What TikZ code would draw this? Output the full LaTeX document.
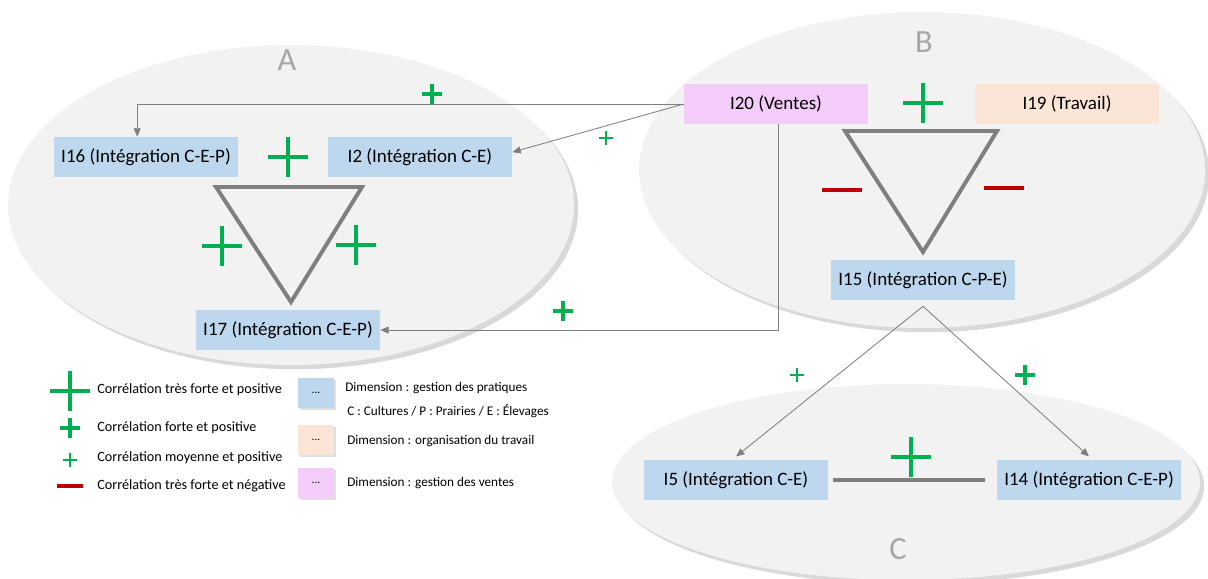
\documentclass[tikz,border=0pt]{standalone}
\usepackage{fontspec}
\setmainfont{Carlito}
\usetikzlibrary{arrows.meta,shadows}
\definecolor{blockblue}{HTML}{BDD7EE}
\definecolor{blockpeach}{HTML}{FBE5D6}
\definecolor{blockpink}{HTML}{F4CCFA}
\definecolor{zonegray}{HTML}{F2F2F2}
\definecolor{linegray}{HTML}{7F7F7F}
\definecolor{lettergray}{HTML}{A6A6A6}
\definecolor{corrgreen}{HTML}{00B050}
\definecolor{corrred}{HTML}{C00000}
\tikzset{
  zone/.style={fill=zonegray, drop shadow={shadow xshift=3pt, shadow yshift=-3pt, opacity=0.3}},
  zonename/.style={text=lettergray, font=\fontsize{23}{25}\selectfont},
  indic/.style={fill=#1, minimum width=4.6cm, minimum height=1cm, inner sep=2pt, font=\fontsize{13.5}{15}\selectfont},
  link/.style={draw=linegray, line width=0.6pt, -{Triangle[length=6pt,width=5pt]}},
  triline/.style={draw=linegray, line width=2.8pt, line join=miter},
  legtext/.style={anchor=west, inner sep=0pt, font=\fontsize{10.1}{12}\selectfont},
  dimtext/.style={anchor=west, inner sep=0pt, font=\fontsize{9.4}{11}\selectfont},
  legbox/.style={fill=#1, minimum width=0.9cm, minimum height=0.75cm, inner sep=0pt, font=\fontsize{8}{9}\selectfont,
    drop shadow={shadow xshift=1.5pt, shadow yshift=-1.5pt, opacity=0.25}}
}
% plus mark: x, y, half arm, thickness
\newcommand{\corrplus}[4]{\draw[corrgreen, line width=#4] (#1-#3,#2) -- (#1+#3,#2) (#1,#2-#3) -- (#1,#2+#3);}
% minus mark: x, y, half length
\newcommand{\corrminus}[3]{\draw[corrred, line width=2.8pt] (#1-#3,#2) -- (#1+#3,#2);}

\begin{document}
\begin{tikzpicture}[x=0.025cm, y=-0.025cm]
\useasboundingbox (0,0) rectangle (1208,578);
% zones
\fill[zone] (291,205) ellipse [x radius=283, y radius=160];
\fill[zone] (922,170) ellipse [x radius=283, y radius=158];
\fill[zone] (906,482) ellipse [x radius=294, y radius=98];
\node[zonename] (nameA) at (287,60) {A};
\node[zonename] (nameB) at (924,42) {B};
\node[zonename] (nameC) at (898,549) {C};

% indicators
\node[indic=blockblue] (I16) at (146,157) {I16 (Intégration C-E-P)};
\node[indic=blockblue] (I2) at (420,157) {I2 (Intégration C-E)};
\node[indic=blockblue] (I17) at (288,330) {I17 (Intégration C-E-P)};
\node[indic=blockpink] (I20) at (776,104) {I20 (Ventes)};
\node[indic=blockpeach] (I19) at (1067,104) {I19 (Travail)};
\node[indic=blockblue] (I15) at (923,280) {I15 (Intégration C-P-E)};
\node[indic=blockblue] (I5) at (736,480) {I5 (Intégration C-E)};
\node[indic=blockblue] (I14) at (1089,480) {I14 (Intégration C-E-P)};

% triangles
\draw[triline] (216,187) -- (362,187) -- (291,302) -- cycle;
\draw[triline] (845,131) -- (997,131) -- (923,252) -- cycle;
\draw[triline, shorten <=3pt, shorten >=8pt] (I5.east) -- (I14.west);

% links between zones
\draw[link] (I20.west) -| ([xshift=-0.22cm]I16.north);
\draw[link] (I20.west) -- ([yshift=0.12cm]I2.east);
\draw[link] ([xshift=0.05cm]I20.south) |- (I17.east);
\coordinate (fork) at ([yshift=-0.15cm]I15.south);
\draw[link] (fork) -- ([yshift=0.08cm]I5.north);
\draw[link] (fork) -- ([yshift=0.08cm]I14.north);

% correlations
\corrplus{288}{157}{20}{3.5pt}
\corrplus{222}{246}{20}{3.5pt}
\corrplus{356}{245}{20}{3.5pt}
\corrplus{923}{103}{20}{3.5pt}
\corrplus{911}{457}{20}{3.5pt}
\corrplus{432}{94}{10}{3.2pt}
\corrplus{563}{311}{10}{3.2pt}
\corrplus{1025}{375}{10}{3.2pt}
\corrplus{606}{138}{7}{1.4pt}
\corrplus{797}{375}{7}{1.4pt}
\corrminus{842}{190}{20}
\corrminus{1004}{188}{20}

% legend
\corrplus{70}{391}{20}{3.5pt}
\corrplus{70}{428}{10}{3.2pt}
\corrplus{70}{460}{7}{1.4pt}
\corrminus{70}{486}{13}
\node[legtext] (l1) at (97,390) {Corrélation très forte et positive};
\node[legtext] (l2) at (97,428) {Corrélation forte et positive};
\node[legtext] (l3) at (97,458) {Corrélation moyenne et positive};
\node[legtext] (l4) at (97,486) {Corrélation très forte et négative};
\node[legbox=blockblue] (b1) at (316,393) {...};
\node[legbox=blockpeach] (b2) at (316,440) {...};
\node[legbox=blockpink] (b3) at (316,483) {...};
\node[dimtext] (d1) at (345,388) {Dimension : gestion des pratiques};
\node[dimtext] (d2) at (347,411) {C : Cultures / P : Prairies / E : Élevages};
\node[dimtext] (d3) at (347,441) {Dimension : organisation du travail};
\node[dimtext] (d4) at (347,483) {Dimension : gestion des ventes};
\end{tikzpicture}
\end{document}
